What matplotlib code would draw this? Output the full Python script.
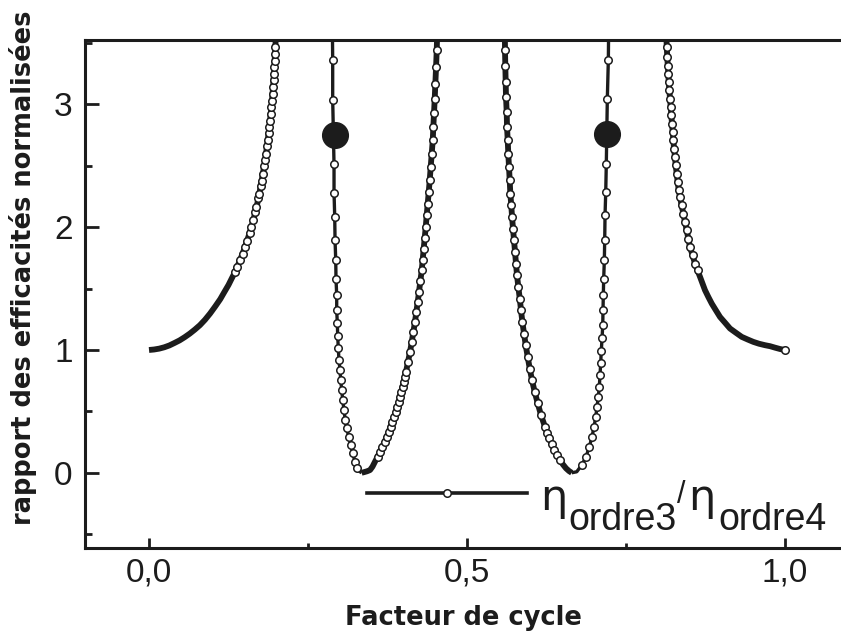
#%% Import libraries
import matplotlib
matplotlib.use('Agg')
import matplotlib.pyplot as plt
from matplotlib.lines import Line2D

#%% Data (facteur de cycle, rapport normalise eta3/eta4)
# left branch, rising towards the pole
x_left = [0.000, 0.008, 0.016, 0.024, 0.032, 0.040, 0.048, 0.056, 0.064, 0.072,
          0.080, 0.088, 0.096, 0.104, 0.112, 0.118, 0.125, 0.130, 0.135, 0.139,
          0.143, 0.147, 0.151, 0.154, 0.158, 0.161, 0.164, 0.167, 0.169, 0.172,
          0.1735, 0.1755, 0.177, 0.179, 0.181, 0.1825, 0.184, 0.1855, 0.1867, 0.188,
          0.1892, 0.1903, 0.1914, 0.1924, 0.1934, 0.1942, 0.195, 0.1958, 0.1965, 0.1971,
          0.1976, 0.1981, 0.1986, 0.199]
y_left = [1.000, 1.004, 1.011, 1.022, 1.037, 1.057, 1.078, 1.104, 1.133, 1.166,
          1.202, 1.246, 1.297, 1.354, 1.414, 1.468, 1.530, 1.582, 1.633, 1.680,
          1.730, 1.784, 1.840, 1.888, 1.950, 2.004, 2.056, 2.120, 2.162, 2.236,
          2.274, 2.333, 2.376, 2.436, 2.496, 2.548, 2.599, 2.661, 2.711, 2.765,
          2.815, 2.869, 2.924, 2.978, 3.032, 3.086, 3.141, 3.199, 3.250, 3.309,
          3.358, 3.412, 3.466, 3.510]

# first dip, steep side (coming down from the pole)
x_dip1a = [0.2885, 0.2888, 0.2888, 0.2909, 0.2909, 0.2920, 0.2925, 0.2936, 0.2940, 0.2951,
           0.2951, 0.2961, 0.2967, 0.2976, 0.2987, 0.3003, 0.3014, 0.3030, 0.3046, 0.3066,
           0.3086, 0.3109, 0.3140, 0.3171, 0.3203, 0.3239, 0.3275, 0.3310, 0.3344]
y_dip1a = [3.52, 3.364, 3.038, 2.512, 2.282, 2.083, 1.893, 1.731, 1.582, 1.446,
           1.324, 1.218, 1.112, 1.015, 0.917, 0.836, 0.754, 0.673, 0.591, 0.510,
           0.429, 0.361, 0.293, 0.225, 0.158, 0.090, 0.036, 0.010, 0.000]

# first dip, rising side
x_dip1b = [0.3344, 0.3388, 0.3428, 0.3475, 0.3514, 0.3553, 0.3593, 0.3632, 0.3668, 0.3706,
           0.3737, 0.3769, 0.3797, 0.3825, 0.3852, 0.3879, 0.3903, 0.3926, 0.3947, 0.3967,
           0.3986, 0.4005, 0.4022, 0.4041, 0.4072, 0.4104, 0.4131, 0.4156, 0.4182, 0.4203,
           0.4225, 0.4245, 0.4266, 0.4288, 0.4303, 0.4319, 0.4335, 0.4351, 0.4366, 0.4382,
           0.4398, 0.4414, 0.4429, 0.4445, 0.4461, 0.4470, 0.4481, 0.4492, 0.4502, 0.4513,
           0.4524, 0.4528]
y_dip1b = [0.000, 0.006, 0.012, 0.022, 0.050, 0.090, 0.130, 0.171, 0.212, 0.252,
           0.293, 0.334, 0.374, 0.415, 0.456, 0.496, 0.537, 0.578, 0.618, 0.659,
           0.700, 0.740, 0.781, 0.822, 0.903, 0.985, 1.066, 1.147, 1.229, 1.310,
           1.391, 1.473, 1.562, 1.649, 1.736, 1.826, 1.915, 2.002, 2.097, 2.192,
           2.286, 2.387, 2.490, 2.599, 2.707, 2.815, 2.929, 3.046, 3.168, 3.303,
           3.445, 3.52]

# second dip, falling side
x_dip2a = [0.5596, 0.5597, 0.5602, 0.5608, 0.5613, 0.5624, 0.5629, 0.5640, 0.5649, 0.5660,
           0.5671, 0.5681, 0.5696, 0.5708, 0.5723, 0.5739, 0.5755, 0.5770, 0.5786, 0.5807,
           0.5829, 0.5849, 0.5870, 0.5896, 0.5923, 0.5954, 0.5986, 0.6022, 0.6064, 0.6112,
           0.6164, 0.6226, 0.6258, 0.6294, 0.6333, 0.6373, 0.6415, 0.6462, 0.6509, 0.6557,
           0.6604, 0.6646]
y_dip2a = [3.52, 3.445, 3.317, 3.181, 3.059, 2.937, 2.815, 2.707, 2.599, 2.490,
           2.382, 2.273, 2.178, 2.083, 1.989, 1.893, 1.798, 1.704, 1.609, 1.513,
           1.419, 1.324, 1.229, 1.134, 1.039, 0.944, 0.849, 0.754, 0.659, 0.565,
           0.469, 0.374, 0.327, 0.280, 0.232, 0.185, 0.144, 0.103, 0.067, 0.036,
           0.014, 0.000]

# second dip, steep side (going up to the pole)
x_dip2b = [0.6646, 0.6725, 0.6804, 0.6871, 0.6923, 0.6965, 0.6997, 0.7024, 0.7044, 0.7064,
           0.7080, 0.7091, 0.7102, 0.7111, 0.7123, 0.7134, 0.7138, 0.7143, 0.7149, 0.7159,
           0.7165, 0.7170, 0.7181, 0.7190, 0.7206, 0.7222, 0.7225]
y_dip2b = [0.000, 0.008, 0.063, 0.130, 0.212, 0.293, 0.374, 0.456, 0.537, 0.618,
           0.700, 0.795, 0.895, 0.993, 1.094, 1.202, 1.324, 1.446, 1.582, 1.731,
           1.899, 2.097, 2.286, 2.517, 3.046, 3.364, 3.52]

# right branch, from the pole down to f = 1
x_right = [0.8137, 0.8140, 0.8149, 0.8156, 0.8165, 0.8171, 0.8181, 0.8192, 0.8203, 0.8212,
           0.8223, 0.8234, 0.8244, 0.8255, 0.8270, 0.8281, 0.8297, 0.8313, 0.8329, 0.8349,
           0.8374, 0.8401, 0.8428, 0.8454, 0.8480, 0.8506, 0.8546, 0.8585, 0.8624, 0.8664,
           0.8703, 0.8742, 0.8794, 0.8848, 0.8912, 0.8978, 0.9057, 0.9135, 0.9226, 0.9319,
           0.9410, 0.9502, 0.9591, 0.9686, 0.9764, 0.9843, 0.9921, 1.000]
y_right = [3.52, 3.466, 3.385, 3.317, 3.250, 3.181, 3.114, 3.046, 2.978, 2.911,
           2.843, 2.775, 2.707, 2.640, 2.571, 2.504, 2.436, 2.368, 2.300, 2.246,
           2.178, 2.111, 2.042, 1.975, 1.907, 1.839, 1.771, 1.704, 1.649, 1.595,
           1.541, 1.487, 1.432, 1.378, 1.324, 1.269, 1.222, 1.175, 1.141, 1.107,
           1.086, 1.066, 1.051, 1.039, 1.031, 1.019, 1.008, 1.000]

# two highlighted points
x_dots = [0.2925, 0.7197]
y_dots = [2.75, 2.76]

x_major = [0.0, 0.5, 1.0]
x_labels = ['0,0', '0,5', '1,0']
x_minor = [0.25, 0.75]
y_major = [0, 1, 2, 3]
y_minor = [-0.5, 0.5, 1.5, 2.5, 3.5]

#%% Style
ink = '#1c1c1c'
ring = dict(marker='o', ms=5.4, mfc='white', mec=ink, mew=1.1)
plt.rcParams['font.family'] = ['Liberation Sans', 'DejaVu Sans']

fig = plt.figure(figsize=(8.41, 6.38), dpi=100)
ax = fig.add_axes([0.1011, 0.1411, 0.8989, 0.7962])

def draw_branch(xs, ys, lw, ymin_mark, ymax_mark=3.5, extra=()):
    marks = [i for i, v in enumerate(ys) if ymin_mark <= v <= ymax_mark]
    marks = sorted(set(marks) | set(extra))
    ax.plot(xs, ys, '-', color=ink, lw=lw, markevery=marks, solid_capstyle='butt',
            zorder=3, **ring)

draw_branch(x_left, y_left, 4.2, 1.6)
draw_branch(x_dip1a, y_dip1a, 2.4, 0.03)
draw_branch(x_dip1b, y_dip1b, 4.2, 0.1)
draw_branch(x_dip2a, y_dip2a, 4.2, 0.1)
draw_branch(x_dip2b, y_dip2b, 2.4, 0.03)
draw_branch(x_right, y_right, 4.2, 1.6, extra=[len(y_right) - 1])

ax.plot(x_dots, y_dots, 'o', color=ink, ms=18.5, zorder=5)

#%% Axes
ax.set_xlim(-0.1006, 1.088)
ax.set_ylim(-0.6127, 3.525)
ax.set_xticks(x_major)
ax.set_xticklabels(x_labels)
ax.set_xticks(x_minor, minor=True)
ax.set_yticks(y_major)
ax.set_yticks(y_minor, minor=True)

ax.tick_params(axis='x', which='major', direction='in', length=7.2, width=2.0,
               color=ink, labelsize=24, pad=7, labelcolor=ink)
ax.tick_params(axis='x', which='minor', direction='in', length=3.6, width=2.0, color=ink)
ax.tick_params(axis='y', which='major', direction='in', length=10, width=2.0,
               color=ink, labelsize=24, pad=9, labelcolor=ink)
ax.tick_params(axis='y', which='minor', direction='in', length=5, width=2.0, color=ink)

for side in ['left', 'bottom', 'top']:
    ax.spines[side].set_linewidth(2.2)
    ax.spines[side].set_color(ink)
ax.spines['right'].set_visible(False)

ax.set_xlabel('Facteur de cycle', family='DejaVu Sans', weight='bold', fontsize=18.5, color=ink)
ax.set_ylabel('rapport des efficacités normalisées', family='DejaVu Sans', weight='bold',
              fontsize=18.5, color=ink)
ax.xaxis.set_label_coords(0.5, -0.112)
ax.yaxis.set_label_coords(-0.063, 0.552)

#%% Legend: sample line from the legend, label written piece by piece
proxy = Line2D([], [], color=ink, lw=2.6, **ring)
ax.legend([proxy], [''], loc='center left', bbox_to_anchor=(0.373, 0.1), frameon=False,
          numpoints=1, handlelength=3.2, handletextpad=0, borderpad=0, borderaxespad=0,
          fontsize=36)

lab = dict(transform=ax.transAxes, ha='left', va='baseline', color=ink)
ax.text(0.602, 0.075, 'η', fontsize=31, family='DejaVu Sans', **lab)
ax.text(0.640, 0.035, 'ordre3', fontsize=27, **lab)
ax.text(0.783, 0.089, '/', fontsize=22, **lab)
ax.text(0.798, 0.075, 'η', fontsize=31, family='DejaVu Sans', **lab)
ax.text(0.838, 0.035, 'ordre4', fontsize=27, **lab)

fig.savefig('out.png', dpi=100)
